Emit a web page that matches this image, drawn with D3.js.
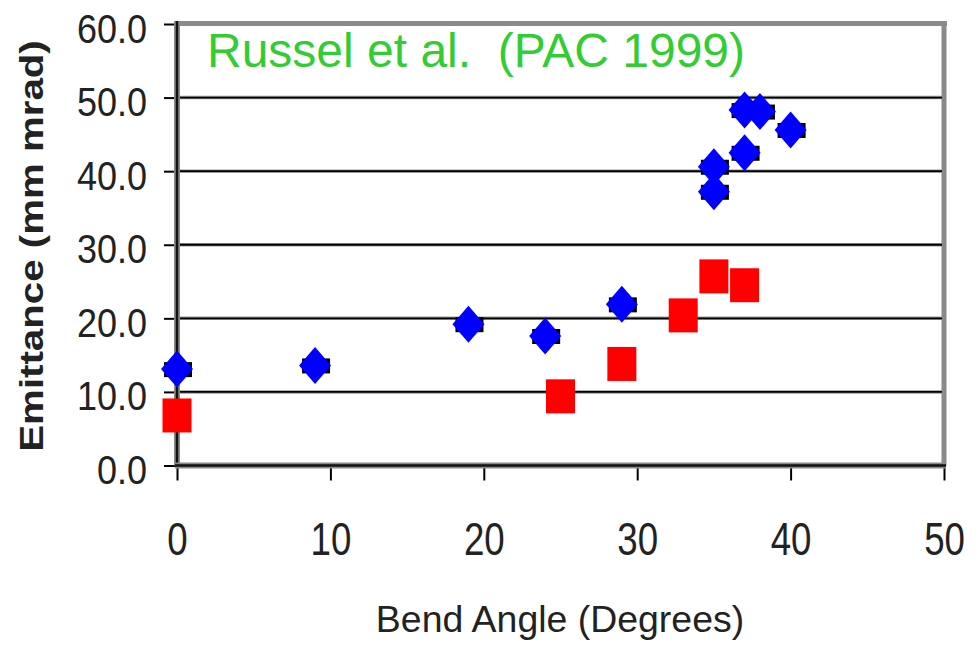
<!DOCTYPE html>
<html>
<head>
<meta charset="utf-8">
<script src="https://d3js.org/d3.v7.min.js"></script>
<style>
  html, body { margin: 0; padding: 0; background: #ffffff; }
  svg { display: block; font-family: "Liberation Sans", Arial, sans-serif; }
</style>
</head>
<body>
<svg id="chart" width="976" height="647"></svg>
<script>
// Emittance vs bend angle, two measurement sets
const blueAngles = [0, 9, 19, 24, 29, 35, 35, 37, 37, 38, 40];
const blueEmittance = [13.1, 13.6, 19.2, 17.6, 21.9, 37.2, 40.6, 42.5, 48.3, 48.1, 45.6];
const redAngles = [0, 25, 29, 33, 35, 37];
const redEmittance = [6.8, 9.4, 13.8, 20.4, 25.7, 24.5];

const xTicks = [0, 10, 20, 30, 40, 50];
const yTicks = [0, 10, 20, 30, 40, 50, 60];
const titleText = "Russel et al.\u00a0\u00a0(PAC 1999)";
const xTitle = "Bend Angle (Degrees)";
const yTitle = "Emittance (mm mrad)";

const svg = d3.select("#chart");
const plotLeft = 177, plotRight = 944, plotTop = 24, plotBottom = 465.5;

const x = d3.scaleLinear().domain([0, 50]).range([plotLeft, plotRight]);
const y = d3.scaleLinear().domain([0, 60]).range([plotBottom, plotTop]);

// Frame: grey top and right borders
svg.append("line").attr("x1", plotLeft).attr("x2", plotRight + 3).attr("y1", plotTop - 0.5).attr("y2", plotTop - 0.5)
  .attr("stroke", "#8a8a8a").attr("stroke-width", 5);
svg.append("line").attr("x1", plotRight).attr("x2", plotRight).attr("y1", plotTop - 3).attr("y2", plotBottom)
  .attr("stroke", "#8a8a8a").attr("stroke-width", 5);

// Horizontal gridlines
const gridVals = yTicks.filter(d => d > 0 && d < 60);
svg.append("g").selectAll("line").data(gridVals).join("line")
  .attr("x1", plotLeft).attr("x2", plotRight - 2)
  .attr("y1", d => y(d)).attr("y2", d => y(d))
  .attr("stroke", "#9a9a9a").attr("stroke-width", 3.5);
svg.append("g").selectAll("line").data(gridVals).join("line")
  .attr("x1", plotLeft).attr("x2", plotRight - 2)
  .attr("y1", d => y(d)).attr("y2", d => y(d))
  .attr("stroke", "#000").attr("stroke-width", 1.8);

// Axes via d3 axis generators
const yAxis = svg.append("g").attr("transform", `translate(${plotLeft},0)`)
  .call(d3.axisLeft(y).tickValues(yTicks).tickSize(13).tickFormat(d3.format(".1f")));
const xAxis = svg.append("g").attr("transform", `translate(0,${plotBottom})`)
  .call(d3.axisBottom(x).tickValues(xTicks).tickSize(15).tickFormat(d3.format("d")));

[yAxis, xAxis].forEach(g => {
  g.select(".domain").remove();
  g.selectAll(".tick line").attr("stroke", "#000").attr("stroke-width", 2);
});

// Axis lines with soft grey shadow
svg.append("line").attr("x1", plotLeft).attr("x2", plotLeft).attr("y1", plotTop - 3).attr("y2", plotBottom)
  .attr("stroke", "#8a8a8a").attr("stroke-width", 6);
svg.append("line").attr("x1", plotLeft).attr("x2", plotLeft).attr("y1", plotTop - 3).attr("y2", plotBottom + 1)
  .attr("stroke", "#111").attr("stroke-width", 2.5);
svg.append("line").attr("x1", plotLeft - 2).attr("x2", plotRight + 2).attr("y1", plotBottom).attr("y2", plotBottom)
  .attr("stroke", "#8a8a8a").attr("stroke-width", 6);
svg.append("line").attr("x1", plotLeft - 2).attr("x2", plotRight + 2).attr("y1", plotBottom).attr("y2", plotBottom)
  .attr("stroke", "#111").attr("stroke-width", 2.5);

// Tick labels
yAxis.selectAll(".tick text")
  .attr("x", null).attr("dy", null)
  .attr("font-size", 40).attr("fill", "#222").attr("text-anchor", "end")
  .attr("font-family", "Liberation Sans, Arial, sans-serif")
  .attr("transform", "translate(-30,18) scale(0.9,1)");
xAxis.selectAll(".tick text")
  .attr("y", null).attr("dy", null)
  .attr("font-size", 47).attr("fill", "#222").attr("text-anchor", "middle")
  .attr("font-family", "Liberation Sans, Arial, sans-serif")
  .attr("transform", "translate(0,89) scale(0.78,1)");

// Blue diamonds with dark backing
const dw = 16, dh = 18.5;
const blue = blueAngles.map((a, i) => ({ a, v: blueEmittance[i] }));
const red = redAngles.map((a, i) => ({ a, v: redEmittance[i] }));

svg.append("g").selectAll("rect").data(blue).join("rect")
  .attr("x", d => x(d.a) - 13).attr("y", d => y(d.v) - 7)
  .attr("width", 28).attr("height", 15).attr("fill", "#000");
svg.append("g").selectAll("path").data(blue).join("path")
  .attr("d", d => {
    const cx = x(d.a), cy = y(d.v);
    return `M${cx},${cy - dh}L${cx + dw},${cy}L${cx},${cy + dh}L${cx - dw},${cy}Z`;
  })
  .attr("fill", "#0000ff");

// Red squares
svg.append("g").selectAll("rect").data(red).join("rect")
  .attr("x", d => x(d.a) - 14.5).attr("y", d => y(d.v) - 17)
  .attr("width", 29).attr("height", 34).attr("fill", "#ff0000");

// Title inside plot
svg.append("text").attr("x", 207).attr("y", 67)
  .attr("font-size", 48).attr("fill", "#33cc33")
  .text(titleText);

// Axis titles
svg.append("text").attr("x", 0).attr("y", 0)
  .attr("font-size", 36).attr("fill", "#222").attr("text-anchor", "middle")
  .attr("transform", "translate(560,632) scale(1.04,1)")
  .text(xTitle);
svg.append("text").attr("x", 0).attr("y", 0)
  .attr("font-size", 33).attr("font-weight", "bold").attr("fill", "#222").attr("text-anchor", "middle")
  .attr("transform", "translate(43,246) rotate(-90) scale(1.22,1)")
  .text(yTitle);
</script>
</body>
</html>
